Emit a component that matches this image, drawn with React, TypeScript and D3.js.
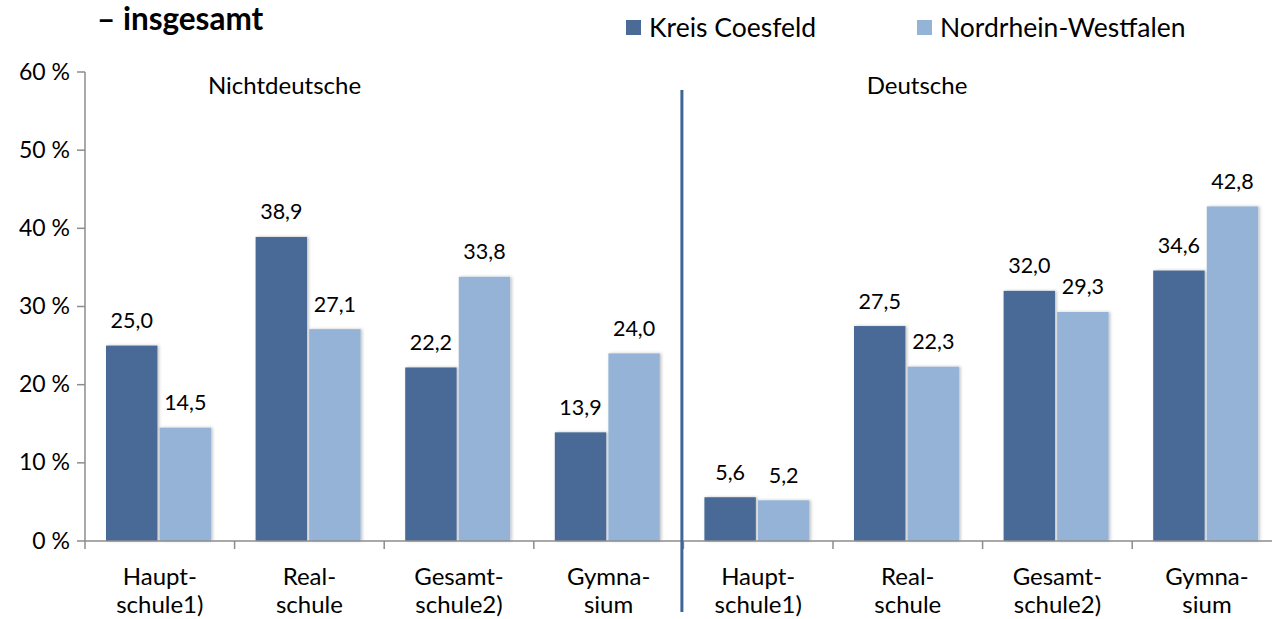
import React from "react";
import * as d3 from "d3";

const categories = [
  ["Haupt-", "schule1)"],
  ["Real-", "schule"],
  ["Gesamt-", "schule2)"],
  ["Gymna-", "sium"],
  ["Haupt-", "schule1)"],
  ["Real-", "schule"],
  ["Gesamt-", "schule2)"],
  ["Gymna-", "sium"],
];
const seriesNames = ["Kreis Coesfeld", "Nordrhein-Westfalen"];
const kreisCoesfeld = [25.0, 38.9, 22.2, 13.9, 5.6, 27.5, 32.0, 34.6];
const nrw = [14.5, 27.1, 33.8, 24.0, 5.2, 22.3, 29.3, 42.8];
const yTicks = [0, 10, 20, 30, 40, 50, 60];
const groupLabels = ["Nichtdeutsche", "Deutsche"];
const colors = ["#4A6A97", "#95B3D7"];

const W = 1272;
const H = 619;
const left = 85;
const catW = 149.6;
const y0 = 541;
const yTop = 72;

export default function App() {
  const x = d3
    .scaleBand<number>()
    .domain(d3.range(categories.length))
    .range([left, left + catW * categories.length])
    .padding(0);
  const inner = d3
    .scaleBand<number>()
    .domain([0, 1])
    .range([21, 126])
    .paddingInner(0.04);
  const y = d3.scaleLinear().domain([0, 60]).range([y0, yTop]);
  const series = [kreisCoesfeld, nrw];
  const font = "Lato, 'Open Sans', sans-serif";
  const fmt = (v: number) => v.toFixed(1).replace(".", ",");
  const divX = x(4)! - 1.5;

  return (
    <svg
      width={W}
      height={H}
      style={{ position: "absolute", left: 0, top: 0, background: "#fff" }}
      fontFamily={font}
    >
      <defs>
        <filter id="sh" x="-20%" y="-5%" width="140%" height="110%">
          <feDropShadow dx="1.5" dy="0" stdDeviation="1.5" floodColor="#000" floodOpacity="0.25" />
        </filter>
      </defs>
      <text x={97} y={30} fontSize={31.5} fontWeight="bold" fill="#000">
        – insgesamt
      </text>
      {seriesNames.map((s, i) => {
        const lx = [626, 917][i];
        return (
          <g key={s}>
            <rect x={lx} y={20} width={15} height={15} fill={colors[i]} />
            <text x={lx + 23} y={36.5} fontSize={26.5} fill="#000">
              {s}
            </text>
          </g>
        );
      })}
      {/* y axis */}
      <line x1={left} x2={left} y1={yTop} y2={y0} stroke="#8c8c8c" strokeWidth={1.5} />
      {yTicks.map((t) => (
        <g key={t}>
          <line x1={left - 8} x2={left} y1={y(t)} y2={y(t)} stroke="#8c8c8c" strokeWidth={1.5} />
          <text x={70} y={y(t) + 7.5} fontSize={23} textAnchor="end" fill="#000">
            {t} %
          </text>
        </g>
      ))}
      {/* bars */}
      {series.map((vals, si) =>
        vals.map((v, ci) => {
          const bx = x(ci)! + inner(si)!;
          return (
            <g key={`${si}-${ci}`}>
              <rect
                x={bx}
                y={y(v)}
                width={inner.bandwidth()}
                height={y0 - y(v)}
                fill={colors[si]}
                filter="url(#sh)"
              />
              <text
                x={bx + inner.bandwidth() / 2}
                y={y(v) - 17.5}
                fontSize={21.5}
                textAnchor="middle"
                fill="#000"
              >
                {fmt(v)}
              </text>
            </g>
          );
        })
      )}
      {/* x axis */}
      <line x1={left} x2={W} y1={y0} y2={y0} stroke="#8c8c8c" strokeWidth={1.5} />
      {d3.range(categories.length + 1).map((i) => (
        <line
          key={i}
          x1={left + i * catW}
          x2={left + i * catW}
          y1={y0}
          y2={y0 + 8}
          stroke="#8c8c8c"
          strokeWidth={1.5}
        />
      ))}
      {categories.map((c, i) => (
        <text key={i} x={x(i)! + catW / 2} fontSize={24} textAnchor="middle" fill="#000">
          <tspan x={x(i)! + catW / 2} y={585}>
            {c[0]}
          </tspan>
          <tspan x={x(i)! + catW / 2} y={613}>
            {c[1]}
          </tspan>
        </text>
      ))}
      {/* divider */}
      <line x1={divX} x2={divX} y1={90} y2={612} stroke="#3F6496" strokeWidth={3} />
      {groupLabels.map((g, i) => (
        <text key={g} x={[284.5, 917][i]} y={94} fontSize={24} textAnchor="middle" fill="#000">
          {g}
        </text>
      ))}
    </svg>
  );
}
